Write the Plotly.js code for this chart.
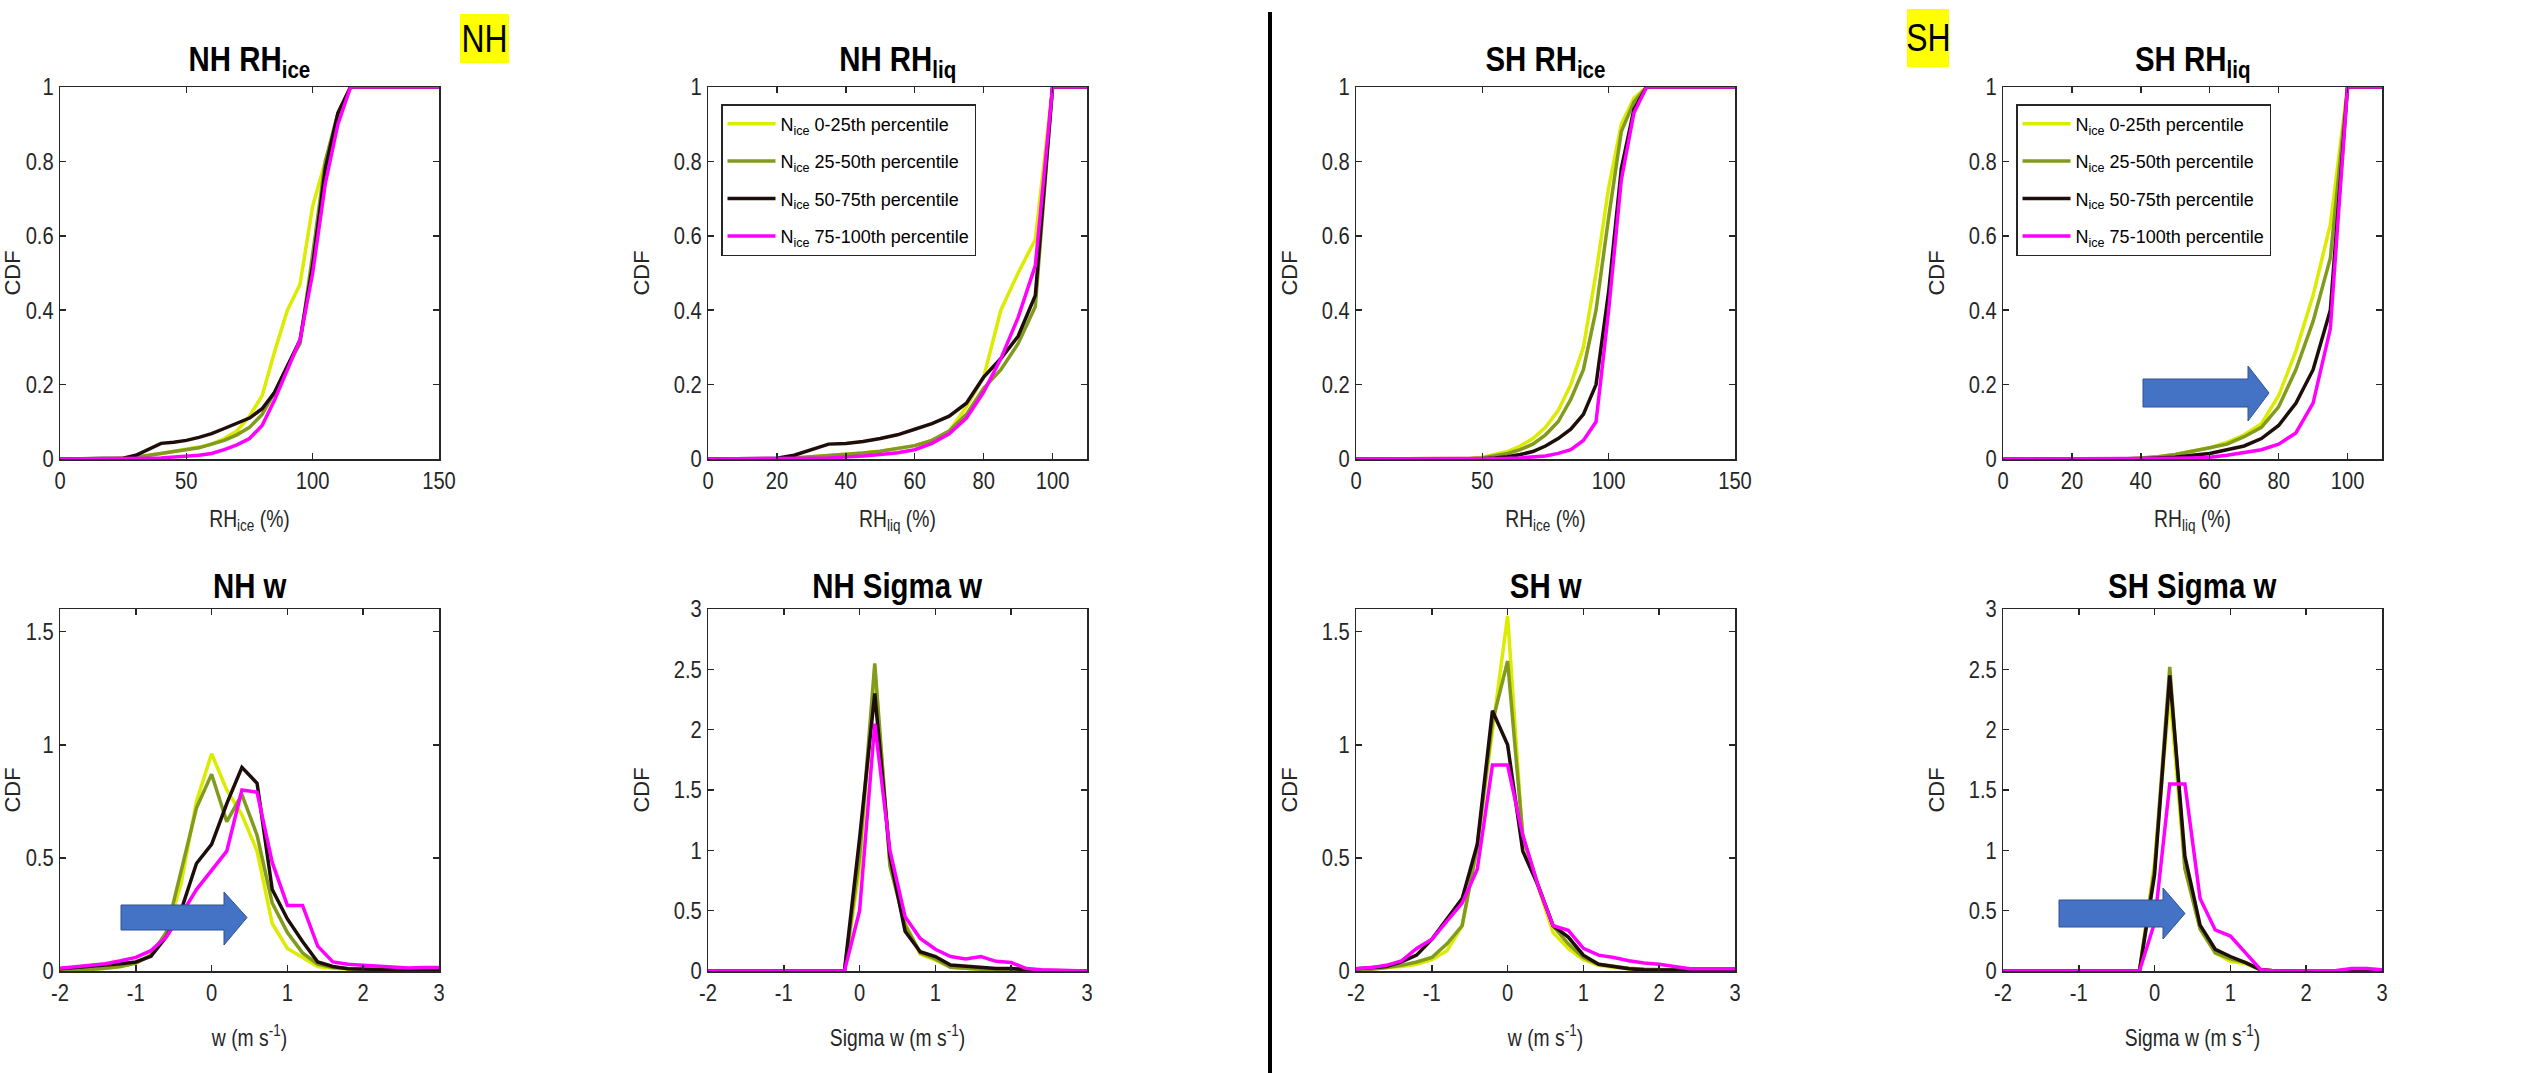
<!DOCTYPE html>
<html><head><meta charset="utf-8">
<script src="https://cdn.plot.ly/plotly-3.0.1.min.js"></script>
<style>html,body{margin:0;padding:0;background:#fff;}#chart{width:2526px;height:1073px;}</style>
</head><body><div id="chart"></div>
<script>
// ---------------- DATA ----------------
const seriesNames = ['N<sub>ice</sub> 0-25th percentile','N<sub>ice</sub> 25-50th percentile','N<sub>ice</sub> 50-75th percentile','N<sub>ice</sub> 75-100th percentile'];

const rhIceX = [0,5,10,15,20,25,30,35,40,45,50,55,60,65,70,75,80,85,90,95,100,105,110,115,150];
const rhLiqX = [0,5,10,15,20,25,30,35,40,45,50,55,60,65,70,75,80,85,90,95,100,110];
const wX = [-2,-1.8,-1.6,-1.4,-1.2,-1,-0.8,-0.6,-0.4,-0.2,0,0.2,0.4,0.6,0.8,1,1.2,1.4,1.6,1.8,2,2.2,2.4,2.6,2.8,3];

// NH RH ice
const nhRhIceP0  = [0,0,0,0,0.001,0.003,0.006,0.01,0.015,0.02,0.025,0.032,0.04,0.055,0.075,0.115,0.17,0.29,0.40,0.47,0.68,0.80,0.91,1,1];
const nhRhIceP25 = [0,0,0,0,0,0.002,0.005,0.01,0.015,0.02,0.025,0.03,0.04,0.05,0.065,0.085,0.12,0.18,0.25,0.31,0.55,0.80,0.93,1,1];
const nhRhIceP50 = [0,0,0,0,0,0.002,0.01,0.025,0.042,0.045,0.05,0.058,0.068,0.082,0.095,0.11,0.135,0.18,0.25,0.32,0.52,0.78,0.93,1,1];
const nhRhIceP75 = [0,0,0,0,0,0,0.001,0.002,0.003,0.005,0.007,0.01,0.015,0.025,0.038,0.055,0.09,0.16,0.24,0.32,0.50,0.74,0.90,1,1];

// NH RH liq
const nhRhLiqP0  = [0,0,0,0,0.001,0.003,0.006,0.009,0.012,0.016,0.021,0.028,0.036,0.05,0.075,0.14,0.22,0.40,0.50,0.59,1,1];
const nhRhLiqP25 = [0,0,0,0,0.001,0.003,0.006,0.009,0.012,0.016,0.021,0.028,0.036,0.05,0.075,0.12,0.19,0.24,0.31,0.41,1,1];
const nhRhLiqP50 = [0,0,0,0,0.002,0.01,0.025,0.04,0.042,0.047,0.055,0.065,0.08,0.095,0.115,0.15,0.22,0.27,0.33,0.44,1,1];
const nhRhLiqP75 = [0,0,0,0,0,0.001,0.002,0.003,0.005,0.008,0.012,0.017,0.025,0.042,0.068,0.11,0.18,0.27,0.38,0.52,1,1];

// SH RH ice
const shRhIceP0  = [0,0,0,0,0,0,0,0,0.001,0.002,0.005,0.012,0.02,0.035,0.055,0.085,0.13,0.20,0.30,0.50,0.73,0.90,0.97,1,1];
const shRhIceP25 = [0,0,0,0,0,0,0,0,0,0.001,0.003,0.008,0.015,0.025,0.04,0.065,0.10,0.16,0.24,0.40,0.65,0.88,0.96,1,1];
const shRhIceP50 = [0,0,0,0,0,0,0,0,0,0,0.001,0.003,0.006,0.012,0.02,0.035,0.055,0.08,0.12,0.20,0.45,0.78,0.94,1,1];
const shRhIceP75 = [0,0,0,0,0,0,0,0,0,0,0,0.001,0.002,0.003,0.005,0.008,0.015,0.025,0.05,0.10,0.40,0.75,0.93,1,1];

// SH RH liq
const shRhLiqP0  = [0,0,0,0,0,0,0,0,0.003,0.006,0.012,0.02,0.03,0.045,0.065,0.095,0.17,0.29,0.44,0.63,1,1];
const shRhLiqP25 = [0,0,0,0,0,0,0,0,0.003,0.006,0.012,0.02,0.03,0.04,0.06,0.085,0.14,0.24,0.37,0.54,1,1];
const shRhLiqP50 = [0,0,0,0,0,0,0,0,0.001,0.003,0.005,0.01,0.015,0.025,0.035,0.055,0.09,0.15,0.24,0.40,1,1];
const shRhLiqP75 = [0,0,0,0,0,0,0,0,0,0.001,0.002,0.003,0.005,0.01,0.018,0.025,0.04,0.07,0.15,0.35,1,1];

// NH w
const nhWP0  = [0.002,0.004,0.007,0.012,0.02,0.035,0.07,0.16,0.39,0.75,0.96,0.80,0.69,0.53,0.21,0.10,0.06,0.02,0.012,0.008,0.005,0.004,0.003,0.002,0.002,0.002];
const nhWP25 = [0.002,0.004,0.007,0.012,0.02,0.035,0.07,0.17,0.45,0.72,0.87,0.66,0.78,0.60,0.30,0.17,0.08,0.03,0.015,0.01,0.006,0.004,0.003,0.002,0.002,0.002];
const nhWP50 = [0.01,0.015,0.02,0.025,0.032,0.04,0.065,0.15,0.27,0.475,0.56,0.74,0.90,0.83,0.36,0.23,0.13,0.04,0.02,0.01,0.008,0.006,0.005,0.004,0.003,0.003];
const nhWP75 = [0.012,0.018,0.025,0.032,0.045,0.06,0.09,0.15,0.25,0.36,0.445,0.53,0.80,0.79,0.48,0.29,0.29,0.11,0.04,0.03,0.025,0.02,0.015,0.013,0.015,0.015];

// NH sigma w
const nhSwP0  = [0,0,0,0,0,0,0,0,0,0,0.85,2.50,0.90,0.40,0.14,0.09,0.03,0.02,0.015,0.01,0.01,0.005,0.003,0.002,0,0];
const nhSwP25 = [0,0,0,0,0,0,0,0,0,0,0.95,2.55,0.87,0.38,0.15,0.10,0.03,0.02,0.015,0.01,0.008,0.005,0.003,0.002,0,0];
const nhSwP50 = [0,0,0,0,0,0,0,0,0,0,1.10,2.30,0.95,0.33,0.16,0.12,0.05,0.04,0.03,0.02,0.02,0.01,0.005,0.003,0.002,0];
const nhSwP75 = [0,0,0,0,0,0,0,0,0,0,0.50,2.05,1.00,0.45,0.27,0.18,0.12,0.10,0.12,0.08,0.07,0.02,0.01,0.005,0.003,0];

// SH w
const shWP0  = [0.005,0.008,0.015,0.02,0.03,0.05,0.09,0.20,0.55,1.05,1.57,0.58,0.38,0.17,0.10,0.05,0.025,0.015,0.01,0.006,0.005,0.004,0.003,0.002,0.002,0.002];
const shWP25 = [0.005,0.008,0.015,0.025,0.04,0.06,0.12,0.20,0.55,1.10,1.37,0.60,0.38,0.20,0.12,0.06,0.03,0.02,0.012,0.008,0.006,0.004,0.003,0.002,0.002,0.002];
const shWP50 = [0.01,0.015,0.02,0.04,0.07,0.14,0.23,0.32,0.56,1.15,1.00,0.53,0.38,0.20,0.15,0.07,0.03,0.02,0.01,0.005,0.005,0.005,0.003,0.002,0.002,0.002];
const shWP75 = [0.01,0.015,0.025,0.045,0.10,0.14,0.22,0.30,0.45,0.91,0.91,0.60,0.38,0.20,0.18,0.10,0.07,0.06,0.045,0.035,0.03,0.02,0.01,0.01,0.01,0.01];

// SH sigma w
const shSwP0  = [0,0,0,0,0,0,0,0,0,0,0.90,2.30,0.85,0.35,0.15,0.08,0.06,0.01,0,0,0,0,0,0,0,0];
const shSwP25 = [0,0,0,0,0,0,0,0,0,0,0.85,2.52,0.85,0.35,0.15,0.10,0.07,0.01,0,0,0,0,0,0,0,0];
const shSwP50 = [0,0,0,0,0,0,0,0,0,0,0.80,2.45,0.95,0.38,0.18,0.12,0.07,0.01,0,0,0,0,0,0.005,0.01,0];
const shSwP75 = [0,0,0,0,0,0,0,0,0,0,0.40,1.55,1.55,0.60,0.34,0.29,0.15,0.01,0,0,0,0,0.005,0.02,0.02,0.01];

const rhIceTicks = [0,50,100,150];
const rhLiqTicks = [0,20,40,60,80,100];
const wTicks = [-2,-1,0,1,2,3];
const wTickText = ['-2','-1','0','1','2','3'];
const cdfTicks1 = [0,0.2,0.4,0.6,0.8,1];
const cdfTicksW = [0,0.5,1,1.5];
const cdfTicksS = [0,0.5,1,1.5,2,2.5,3];

// ---------------- STYLE / LAYOUT ----------------
const W = 2526, H = 1073;
const FONT = '"Liberation Sans", Arial, Helvetica, sans-serif';
const TEXT_SQUEEZE = 0.84;   // reference glyphs are horizontally condensed
const colors = ['#DCEB00', '#809B1E', '#1E0D08', '#FF00FF'];
const px = v => v / W;
const py = v => 1 - v / H;
const cols = [[60,439],[708,1087],[1356,1735],[2003,2382]];
const rows = [[87,459],[609,971]];

const panels = [
  {title:'NH RH<sub>ice</sub>', c:0, r:0, x:rhIceX, s:[nhRhIceP0,nhRhIceP25,nhRhIceP50,nhRhIceP75], xr:[0,150], xt:rhIceTicks, yr:[0,1], yt:cdfTicks1, xl:'RH<sub>ice</sub> (%)'},
  {title:'NH RH<sub>liq</sub>', c:1, r:0, x:rhLiqX, s:[nhRhLiqP0,nhRhLiqP25,nhRhLiqP50,nhRhLiqP75], xr:[0,110], xt:rhLiqTicks, yr:[0,1], yt:cdfTicks1, xl:'RH<sub>liq</sub> (%)', legend:'legend'},
  {title:'SH RH<sub>ice</sub>', c:2, r:0, x:rhIceX, s:[shRhIceP0,shRhIceP25,shRhIceP50,shRhIceP75], xr:[0,150], xt:rhIceTicks, yr:[0,1], yt:cdfTicks1, xl:'RH<sub>ice</sub> (%)'},
  {title:'SH RH<sub>liq</sub>', c:3, r:0, x:rhLiqX, s:[shRhLiqP0,shRhLiqP25,shRhLiqP50,shRhLiqP75], xr:[0,110], xt:rhLiqTicks, yr:[0,1], yt:cdfTicks1, xl:'RH<sub>liq</sub> (%)', legend:'legend2'},
  {title:'NH w', c:0, r:1, x:wX, s:[nhWP0,nhWP25,nhWP50,nhWP75], xr:[-2,3], xt:wTicks, xtt:wTickText, yr:[0,1.6], yt:cdfTicksW, xl:'w (m s<sup>-1</sup>)'},
  {title:'NH Sigma w', c:1, r:1, x:wX, s:[nhSwP0,nhSwP25,nhSwP50,nhSwP75], xr:[-2,3], xt:wTicks, xtt:wTickText, yr:[0,3], yt:cdfTicksS, xl:'Sigma w (m s<sup>-1</sup>)'},
  {title:'SH w', c:2, r:1, x:wX, s:[shWP0,shWP25,shWP50,shWP75], xr:[-2,3], xt:wTicks, xtt:wTickText, yr:[0,1.6], yt:cdfTicksW, xl:'w (m s<sup>-1</sup>)'},
  {title:'SH Sigma w', c:3, r:1, x:wX, s:[shSwP0,shSwP25,shSwP50,shSwP75], xr:[-2,3], xt:wTicks, xtt:wTickText, yr:[0,3], yt:cdfTicksS, xl:'Sigma w (m s<sup>-1</sup>)'}
];

const axisCommon = {
  showline:true, linecolor:'#262626', linewidth:1.5, mirror:'ticks',
  ticks:'inside', ticklen:6, tickwidth:1.5, tickcolor:'#262626',
  showgrid:false, zeroline:false, fixedrange:true,
  tickfont:{family:FONT, size:24, color:'#262626'}
};

const traces = [];
const layout = {
  width:W, height:H, margin:{l:0,r:0,t:0,b:0},
  paper_bgcolor:'#fff', plot_bgcolor:'#fff',
  font:{family:FONT, color:'#262626'},
  showlegend:true,
  annotations:[], shapes:[]
};

panels.forEach((p, i) => {
  const sfx = i === 0 ? '' : String(i + 1);
  const [l, r] = cols[p.c], [t, b] = rows[p.r];
  p.s.forEach((ys, j) => {
    traces.push({
      type:'scatter', mode:'lines', x:p.x, y:ys,
      xaxis:'x' + sfx, yaxis:'y' + sfx,
      line:{color:colors[j], width:3.5},
      name:seriesNames[j],
      showlegend:!!p.legend,
      legend:p.legend || 'legend',
      legendgroup:(p.legend || 'none') + j,
      hoverinfo:'skip'
    });
  });
  layout['xaxis' + sfx] = Object.assign({}, axisCommon, {
    domain:[px(l), px(r)], anchor:'y' + sfx, range:p.xr,
    tickvals:p.xt, ticktext:p.xtt,
    title:{text:p.xl, font:{family:FONT, size:23, color:'#262626'}, standoff:p.r === 0 ? 17 : 24}
  });
  layout['yaxis' + sfx] = Object.assign({}, axisCommon, {
    domain:[py(b), py(t)], anchor:'x' + sfx, range:p.yr,
    tickvals:p.yt,
    title:{text:'CDF', font:{family:FONT, size:22, color:'#262626'}, standoff:12}
  });
  layout.annotations.push({
    text:'<b>' + p.title + '</b>', showarrow:false,
    xref:'paper', yref:'paper', x:px((l + r) / 2), y:py(t - 2),
    xanchor:'center', yanchor:'bottom',
    font:{family:FONT, size:35, color:'#000'}
  });
});

const legendCommon = {
  xanchor:'left', yanchor:'top', bgcolor:'#fff',
  bordercolor:'#262626', borderwidth:1.5,
  font:{family:FONT, size:18, color:'#000'},
  itemwidth:48, tracegroupgap:11
};
layout.legend = Object.assign({}, legendCommon, {x:px(721), y:py(104)});
layout.legend2 = Object.assign({}, legendCommon, {x:px(2016), y:py(104)});

// hemisphere labels
[[460,509,14,63,'NH'],[1907,1949,9,67,'SH']].forEach(([x0,x1,y0,y1,t]) => {
  layout.shapes.push({type:'rect', xref:'paper', yref:'paper', x0:px(x0), x1:px(x1), y0:py(y1), y1:py(y0),
    fillcolor:'#FFFF00', line:{width:0}, layer:'above'});
  layout.annotations.push({text:t, showarrow:false, xref:'paper', yref:'paper',
    x:px((x0 + x1) / 2), y:py((y0 + y1) / 2), xanchor:'center', yanchor:'middle',
    font:{family:FONT, size:38, color:'#000'}});
});

// divider
layout.shapes.push({type:'line', xref:'paper', yref:'paper', x0:px(1270), x1:px(1270), y0:py(12), y1:0,
  line:{color:'#000', width:4}});

// block arrows: [bodyLeft, headBase, tip, bodyTop, bodyBottom, headTop, headBottom]
const arrows = [
  [121, 224, 247, 905, 930, 892, 945],
  [2143, 2248, 2269, 379, 407, 366, 421],
  [2059, 2163, 2185, 900, 927, 888, 939]
];
arrows.forEach(([a, hb, tip, bt, bb, ht, hbm]) => {
  const mid = (bt + bb) / 2;
  const pts = [[a,bt],[hb,bt],[hb,ht],[tip,mid],[hb,hbm],[hb,bb],[a,bb]];
  const path = 'M' + pts.map(q => px(q[0]) + ',' + py(q[1])).join(' L') + ' Z';
  layout.shapes.push({type:'path', xref:'paper', yref:'paper', path:path,
    fillcolor:'#4472C4', line:{color:'#2F528F', width:1}, layer:'above'});
});

Plotly.newPlot('chart', traces, layout, {staticPlot:true, displayModeBar:false}).then(gd => {
  // condense horizontal glyphs (not the legend, not rotated titles) around their anchor point
  gd.querySelectorAll('svg text').forEach(t => {
    if (t.closest('.legend') || t.closest('[class^="legend"]')) return;
    const tr = t.getAttribute('transform') || '';
    if (/rotate/.test(tr)) return;
    const x = parseFloat(t.getAttribute('x')) || 0;
    t.setAttribute('transform', (tr ? tr + ' ' : '') +
      'translate(' + x + ',0) scale(' + TEXT_SQUEEZE + ',1) translate(' + (-x) + ',0)');
  });
});
</script>
</body></html>
